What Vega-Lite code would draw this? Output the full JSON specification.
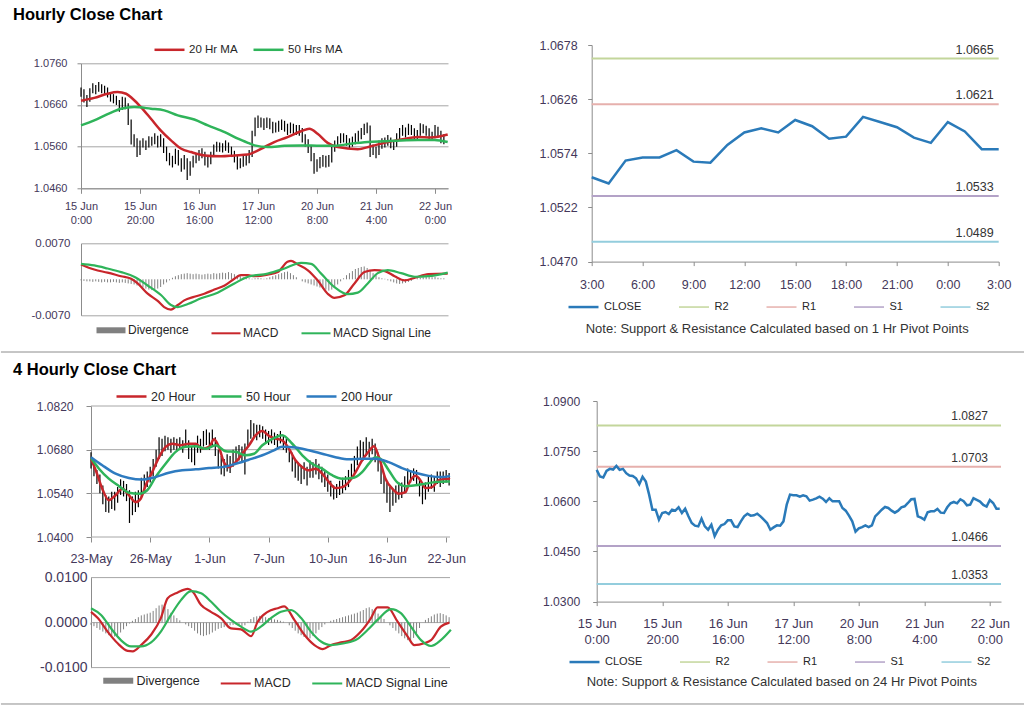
{
"$schema": "https://vega.github.io/schema/vega-lite/v6.json",
"background": "white",
"padding": {"left": 0, "top": 6, "right": 0, "bottom": 0},
"autosize": {"type": "pad"},
"spacing": 0,
"datasets": {
"h1": [
{"i":0,"c":1.0694,"h":1.0702,"l":1.0680,"d":-0.0002},{"i":1,"c":1.0674,"h":1.0698,"l":1.0666,"d":-0.0003},{"i":2,"c":1.0671,"h":1.0684,"l":1.0655,"d":-0.0004},{"i":3,"c":1.0691,"h":1.0700,"l":1.0668,"d":-0.0004},{"i":4,"c":1.0697,"h":1.0712,"l":1.0688,"d":-0.0005},{"i":5,"c":1.0695,"h":1.0708,"l":1.0686,"d":-0.0004},{"i":6,"c":1.0706,"h":1.0715,"l":1.0692,"d":-0.0005},{"i":7,"c":1.0694,"h":1.0710,"l":1.0688,"d":-0.0006},{"i":8,"c":1.0697,"h":1.0706,"l":1.0686,"d":-0.0005},{"i":9,"c":1.0684,"h":1.0702,"l":1.0678,"d":-0.0006},
{"i":10,"c":1.0677,"h":1.0690,"l":1.0668,"d":-0.0006},{"i":11,"c":1.0676,"h":1.0686,"l":1.0664,"d":-0.0005},{"i":12,"c":1.0669,"h":1.0682,"l":1.0660,"d":-0.0006},{"i":13,"c":1.0651,"h":1.0672,"l":1.0644,"d":-0.0007},{"i":14,"c":1.0673,"h":1.0680,"l":1.0648,"d":-0.0006},{"i":15,"c":1.0659,"h":1.0678,"l":1.0650,"d":-0.0007},{"i":16,"c":1.0620,"h":1.0664,"l":1.0612,"d":-0.0008},{"i":17,"c":1.0575,"h":1.0625,"l":1.0565,"d":-0.0009},{"i":18,"c":1.0575,"h":1.0590,"l":1.0560,"d":-0.0010},{"i":19,"c":1.0545,"h":1.0580,"l":1.0535,"d":-0.0012},
{"i":20,"c":1.0565,"h":1.0575,"l":1.0540,"d":-0.0014},{"i":21,"c":1.0568,"h":1.0580,"l":1.0558,"d":-0.0016},{"i":22,"c":1.0562,"h":1.0575,"l":1.0552,"d":-0.0018},{"i":23,"c":1.0575,"h":1.0585,"l":1.0558,"d":-0.0020},{"i":24,"c":1.0572,"h":1.0584,"l":1.0562,"d":-0.0021},{"i":25,"c":1.0582,"h":1.0592,"l":1.0566,"d":-0.0020},{"i":26,"c":1.0565,"h":1.0586,"l":1.0558,"d":-0.0018},{"i":27,"c":1.0578,"h":1.0590,"l":1.0560,"d":-0.0015},{"i":28,"c":1.0555,"h":1.0580,"l":1.0545,"d":-0.0010},{"i":29,"c":1.0535,"h":1.0560,"l":1.0525,"d":-0.0006},
{"i":30,"c":1.0527,"h":1.0545,"l":1.0515,"d":-0.0002},{"i":31,"c":1.0525,"h":1.0538,"l":1.0510,"d":0.0003},{"i":32,"c":1.0548,"h":1.0555,"l":1.0518,"d":0.0006},{"i":33,"c":1.0525,"h":1.0552,"l":1.0515,"d":0.0008},{"i":34,"c":1.0515,"h":1.0532,"l":1.0500,"d":0.0010},{"i":35,"c":1.0530,"h":1.0540,"l":1.0505,"d":0.0011},{"i":36,"c":1.0496,"h":1.0532,"l":1.0480,"d":0.0012},{"i":37,"c":1.0515,"h":1.0525,"l":1.0490,"d":0.0011},{"i":38,"c":1.0528,"h":1.0538,"l":1.0510,"d":0.0010},{"i":39,"c":1.0532,"h":1.0545,"l":1.0520,"d":0.0011},
{"i":40,"c":1.0543,"h":1.0552,"l":1.0526,"d":0.0010},{"i":41,"c":1.0543,"h":1.0556,"l":1.0532,"d":0.0009},{"i":42,"c":1.0525,"h":1.0548,"l":1.0515,"d":0.0010},{"i":43,"c":1.0523,"h":1.0535,"l":1.0510,"d":0.0011},{"i":44,"c":1.0540,"h":1.0548,"l":1.0518,"d":0.0010},{"i":45,"c":1.0555,"h":1.0565,"l":1.0535,"d":0.0012},{"i":46,"c":1.0563,"h":1.0572,"l":1.0548,"d":0.0011},{"i":47,"c":1.0557,"h":1.0570,"l":1.0548,"d":0.0012},{"i":48,"c":1.0558,"h":1.0568,"l":1.0546,"d":0.0013},{"i":49,"c":1.0563,"h":1.0575,"l":1.0550,"d":0.0012},
{"i":50,"c":1.0555,"h":1.0570,"l":1.0545,"d":0.0014},{"i":51,"c":1.0545,"h":1.0560,"l":1.0535,"d":0.0012},{"i":52,"c":1.0535,"h":1.0550,"l":1.0522,"d":0.0010},{"i":53,"c":1.0515,"h":1.0540,"l":1.0505,"d":0.0008},{"i":54,"c":1.0522,"h":1.0532,"l":1.0508,"d":0.0006},{"i":55,"c":1.0528,"h":1.0538,"l":1.0512,"d":0.0004},{"i":56,"c":1.0527,"h":1.0540,"l":1.0515,"d":0.0003},{"i":57,"c":1.0540,"h":1.0552,"l":1.0520,"d":0.0002},{"i":58,"c":1.0590,"h":1.0598,"l":1.0535,"d":0.0001},{"i":59,"c":1.0620,"h":1.0630,"l":1.0585,"d":0.0002},
{"i":60,"c":1.0618,"h":1.0635,"l":1.0605,"d":0.0003},{"i":61,"c":1.0618,"h":1.0630,"l":1.0606,"d":0.0002},{"i":62,"c":1.0614,"h":1.0628,"l":1.0600,"d":0.0001},{"i":63,"c":1.0618,"h":1.0630,"l":1.0605,"d":0.0002},{"i":64,"c":1.0615,"h":1.0628,"l":1.0602,"d":0.0004},{"i":65,"c":1.0602,"h":1.0620,"l":1.0592,"d":0.0006},{"i":66,"c":1.0605,"h":1.0618,"l":1.0594,"d":0.0008},{"i":67,"c":1.0609,"h":1.0622,"l":1.0596,"d":0.0010},{"i":68,"c":1.0614,"h":1.0625,"l":1.0600,"d":0.0012},{"i":69,"c":1.0608,"h":1.0622,"l":1.0596,"d":0.0014},
{"i":70,"c":1.0598,"h":1.0615,"l":1.0588,"d":0.0015},{"i":71,"c":1.0609,"h":1.0618,"l":1.0592,"d":0.0012},{"i":72,"c":1.0600,"h":1.0615,"l":1.0590,"d":0.0008},{"i":73,"c":1.0600,"h":1.0612,"l":1.0588,"d":0.0004},{"i":74,"c":1.0600,"h":1.0612,"l":1.0586,"d":0.0000},{"i":75,"c":1.0580,"h":1.0605,"l":1.0570,"d":-0.0004},{"i":76,"c":1.0572,"h":1.0590,"l":1.0560,"d":-0.0006},{"i":77,"c":1.0557,"h":1.0578,"l":1.0545,"d":-0.0008},{"i":78,"c":1.0540,"h":1.0562,"l":1.0525,"d":-0.0010},{"i":79,"c":1.0509,"h":1.0545,"l":1.0495,"d":-0.0012},
{"i":80,"c":1.0519,"h":1.0530,"l":1.0500,"d":-0.0014},{"i":81,"c":1.0523,"h":1.0535,"l":1.0508,"d":-0.0016},{"i":82,"c":1.0528,"h":1.0540,"l":1.0512,"d":-0.0018},{"i":83,"c":1.0523,"h":1.0538,"l":1.0510,"d":-0.0020},{"i":84,"c":1.0528,"h":1.0540,"l":1.0512,"d":-0.0022},{"i":85,"c":1.0555,"h":1.0562,"l":1.0522,"d":-0.0020},{"i":86,"c":1.0565,"h":1.0575,"l":1.0548,"d":-0.0016},{"i":87,"c":1.0575,"h":1.0585,"l":1.0558,"d":-0.0010},{"i":88,"c":1.0583,"h":1.0592,"l":1.0568,"d":-0.0004},{"i":89,"c":1.0580,"h":1.0592,"l":1.0570,"d":0.0002},
{"i":90,"c":1.0572,"h":1.0588,"l":1.0562,"d":0.0008},{"i":91,"c":1.0566,"h":1.0580,"l":1.0555,"d":0.0012},{"i":92,"c":1.0572,"h":1.0584,"l":1.0560,"d":0.0016},{"i":93,"c":1.0582,"h":1.0592,"l":1.0566,"d":0.0020},{"i":94,"c":1.0585,"h":1.0598,"l":1.0572,"d":0.0022},{"i":95,"c":1.0595,"h":1.0605,"l":1.0578,"d":0.0024},{"i":96,"c":1.0606,"h":1.0615,"l":1.0588,"d":0.0025},{"i":97,"c":1.0607,"h":1.0618,"l":1.0592,"d":0.0022},{"i":98,"c":1.0555,"h":1.0611,"l":1.0535,"d":0.0018},{"i":99,"c":1.0551,"h":1.0565,"l":1.0540,"d":0.0012},
{"i":100,"c":1.0545,"h":1.0560,"l":1.0532,"d":0.0008},{"i":101,"c":1.0567,"h":1.0575,"l":1.0540,"d":0.0004},{"i":102,"c":1.0570,"h":1.0580,"l":1.0555,"d":0.0002},{"i":103,"c":1.0570,"h":1.0582,"l":1.0558,"d":0.0001},{"i":104,"c":1.0577,"h":1.0588,"l":1.0562,"d":-0.0002},{"i":105,"c":1.0566,"h":1.0582,"l":1.0556,"d":-0.0004},{"i":106,"c":1.0565,"h":1.0576,"l":1.0552,"d":-0.0006},{"i":107,"c":1.0582,"h":1.0592,"l":1.0560,"d":-0.0008},{"i":108,"c":1.0594,"h":1.0605,"l":1.0578,"d":-0.0009},{"i":109,"c":1.0598,"h":1.0612,"l":1.0586,"d":-0.0008},
{"i":110,"c":1.0594,"h":1.0606,"l":1.0582,"d":-0.0007},{"i":111,"c":1.0606,"h":1.0615,"l":1.0588,"d":-0.0005},{"i":112,"c":1.0600,"h":1.0612,"l":1.0588,"d":-0.0003},{"i":113,"c":1.0588,"h":1.0604,"l":1.0578,"d":0.0000},{"i":114,"c":1.0590,"h":1.0600,"l":1.0578,"d":0.0002},{"i":115,"c":1.0609,"h":1.0616,"l":1.0586,"d":0.0003},{"i":116,"c":1.0604,"h":1.0614,"l":1.0592,"d":0.0004},{"i":117,"c":1.0599,"h":1.0610,"l":1.0586,"d":0.0005},{"i":118,"c":1.0589,"h":1.0604,"l":1.0578,"d":0.0005},{"i":119,"c":1.0584,"h":1.0596,"l":1.0574,"d":0.0004},
{"i":120,"c":1.0604,"h":1.0612,"l":1.0580,"d":0.0005},{"i":121,"c":1.0595,"h":1.0608,"l":1.0584,"d":0.0003},{"i":122,"c":1.0578,"h":1.0598,"l":1.0568,"d":0.0002},{"i":123,"c":1.0578,"h":1.0590,"l":1.0566,"d":0.0002}
],
"ma1": [
{"i":0,"s":"20 Hr MA","v":1.0670},{"i":4.5,"s":"20 Hr MA","v":1.0677},{"i":9,"s":"20 Hr MA","v":1.0687},{"i":12.4,"s":"20 Hr MA","v":1.0691},{"i":15.3,"s":"20 Hr MA","v":1.0687},{"i":17.5,"s":"20 Hr MA","v":1.0675},{"i":20.3,"s":"20 Hr MA","v":1.0655},{"i":23.7,"s":"20 Hr MA","v":1.0627},{"i":27,"s":"20 Hr MA","v":1.0599},{"i":30.5,"s":"20 Hr MA","v":1.0575},{"i":34,"s":"20 Hr MA","v":1.0555},{"i":37.3,"s":"20 Hr MA","v":1.0547},{"i":41.8,"s":"20 Hr MA","v":1.0539},{"i":47.5,"s":"20 Hr MA","v":1.0537},{"i":52,"s":"20 Hr MA","v":1.0539},{"i":56.5,"s":"20 Hr MA","v":1.0541},{"i":58.8,"s":"20 Hr MA","v":1.0547},{"i":62.2,"s":"20 Hr MA","v":1.0559},{"i":65.5,"s":"20 Hr MA","v":1.0571},{"i":70,"s":"20 Hr MA","v":1.0583},{"i":74.6,"s":"20 Hr MA","v":1.0597},{"i":77.4,"s":"20 Hr MA","v":1.0603},{"i":80.2,"s":"20 Hr MA","v":1.0591},{"i":83.6,"s":"20 Hr MA","v":1.0569},{"i":87,"s":"20 Hr MA","v":1.0559},{"i":93.8,"s":"20 Hr MA","v":1.0554},{"i":98.3,"s":"20 Hr MA","v":1.0561},{"i":102.8,"s":"20 Hr MA","v":1.0569},{"i":108.5,"s":"20 Hr MA","v":1.0577},{"i":114.2,"s":"20 Hr MA","v":1.0583},{"i":118.7,"s":"20 Hr MA","v":1.0582},{"i":124.3,"s":"20 Hr MA","v":1.0589},
{"i":0,"s":"50 Hrs MA","v":1.0611},{"i":4.5,"s":"50 Hrs MA","v":1.0623},{"i":9,"s":"50 Hrs MA","v":1.0638},{"i":13.6,"s":"50 Hrs MA","v":1.0651},{"i":18,"s":"50 Hrs MA","v":1.0655},{"i":23.7,"s":"50 Hrs MA","v":1.0651},{"i":28.2,"s":"50 Hrs MA","v":1.0647},{"i":32.8,"s":"50 Hrs MA","v":1.0635},{"i":38.4,"s":"50 Hrs MA","v":1.0625},{"i":43,"s":"50 Hrs MA","v":1.0611},{"i":48.7,"s":"50 Hrs MA","v":1.0595},{"i":53.2,"s":"50 Hrs MA","v":1.0579},{"i":56.6,"s":"50 Hrs MA","v":1.0569},{"i":58.8,"s":"50 Hrs MA","v":1.0563},{"i":63.3,"s":"50 Hrs MA","v":1.0559},{"i":69,"s":"50 Hrs MA","v":1.0562},{"i":74.6,"s":"50 Hrs MA","v":1.0563},{"i":81.4,"s":"50 Hrs MA","v":1.0562},{"i":85.9,"s":"50 Hrs MA","v":1.0562},{"i":91.5,"s":"50 Hrs MA","v":1.0567},{"i":97.2,"s":"50 Hrs MA","v":1.0571},{"i":102.8,"s":"50 Hrs MA","v":1.0573},{"i":108.5,"s":"50 Hrs MA","v":1.0575},{"i":114.2,"s":"50 Hrs MA","v":1.0576},{"i":119.8,"s":"50 Hrs MA","v":1.0576},{"i":124.3,"s":"50 Hrs MA","v":1.0571}
],
"m1": [
{"i":0,"s":"MACD","v":0.0029},{"i":4.5,"s":"MACD","v":0.0019},{"i":9,"s":"MACD","v":0.0013},{"i":13.6,"s":"MACD","v":0.0006},{"i":17,"s":"MACD","v":0.0001},{"i":19.2,"s":"MACD","v":-0.0008},{"i":22.6,"s":"MACD","v":-0.0028},{"i":26,"s":"MACD","v":-0.0042},{"i":28.2,"s":"MACD","v":-0.0054},{"i":30.5,"s":"MACD","v":-0.0059},{"i":32.8,"s":"MACD","v":-0.0050},{"i":35,"s":"MACD","v":-0.0041},{"i":38.4,"s":"MACD","v":-0.0034},{"i":41.8,"s":"MACD","v":-0.0028},{"i":45.2,"s":"MACD","v":-0.0020},{"i":48.7,"s":"MACD","v":-0.0012},{"i":52,"s":"MACD","v":0.0001},{"i":54.2,"s":"MACD","v":0.0008},{"i":56.6,"s":"MACD","v":0.0008},{"i":58.8,"s":"MACD","v":0.0006},{"i":63.3,"s":"MACD","v":0.0009},{"i":66.7,"s":"MACD","v":0.0014},{"i":70,"s":"MACD","v":0.0034},{"i":71.2,"s":"MACD","v":0.0036},{"i":73.4,"s":"MACD","v":0.0029},{"i":76.8,"s":"MACD","v":0.0018},{"i":80.2,"s":"MACD","v":-0.0002},{"i":83.6,"s":"MACD","v":-0.0028},{"i":85.9,"s":"MACD","v":-0.0036},{"i":89.3,"s":"MACD","v":-0.0031},{"i":92.7,"s":"MACD","v":-0.0008},{"i":96.1,"s":"MACD","v":0.0014},{"i":99.5,"s":"MACD","v":0.0018},{"i":103,"s":"MACD","v":0.0016},{"i":106.3,"s":"MACD","v":0.0006},{"i":109.7,"s":"MACD","v":-0.0002},{"i":113.2,"s":"MACD","v":0.0003},{"i":117.7,"s":"MACD","v":0.0010},{"i":124.3,"s":"MACD","v":0.0011},
{"i":0,"s":"MACD Signal Line","v":0.0030},{"i":4.5,"s":"MACD Signal Line","v":0.0027},{"i":9,"s":"MACD Signal Line","v":0.0021},{"i":13.6,"s":"MACD Signal Line","v":0.0014},{"i":18,"s":"MACD Signal Line","v":0.0005},{"i":22.6,"s":"MACD Signal Line","v":-0.0012},{"i":27.2,"s":"MACD Signal Line","v":-0.0031},{"i":30.5,"s":"MACD Signal Line","v":-0.0050},{"i":32.8,"s":"MACD Signal Line","v":-0.0054},{"i":36.2,"s":"MACD Signal Line","v":-0.0048},{"i":40.7,"s":"MACD Signal Line","v":-0.0037},{"i":46.3,"s":"MACD Signal Line","v":-0.0026},{"i":52,"s":"MACD Signal Line","v":-0.0008},{"i":56.6,"s":"MACD Signal Line","v":0.0005},{"i":63.3,"s":"MACD Signal Line","v":0.0011},{"i":69,"s":"MACD Signal Line","v":0.0021},{"i":74.6,"s":"MACD Signal Line","v":0.0032},{"i":78,"s":"MACD Signal Line","v":0.0030},{"i":81.4,"s":"MACD Signal Line","v":0.0011},{"i":85.9,"s":"MACD Signal Line","v":-0.0015},{"i":90.4,"s":"MACD Signal Line","v":-0.0029},{"i":93.8,"s":"MACD Signal Line","v":-0.0026},{"i":97.2,"s":"MACD Signal Line","v":-0.0008},{"i":100.6,"s":"MACD Signal Line","v":0.0012},{"i":104,"s":"MACD Signal Line","v":0.0018},{"i":108.5,"s":"MACD Signal Line","v":0.0012},{"i":113.2,"s":"MACD Signal Line","v":0.0005},{"i":117.7,"s":"MACD Signal Line","v":0.0006},{"i":124.3,"s":"MACD Signal Line","v":0.0013}
],
"h4": [
{"i":0,"h":1.0672,"l":1.0620,"d":-0.0005},{"i":1,"h":1.0650,"l":1.0595,"d":-0.0008},{"i":2,"h":1.0615,"l":1.0570,"d":-0.0012},{"i":3,"h":1.0600,"l":1.0540,"d":-0.0016},{"i":4,"h":1.0565,"l":1.0505,"d":-0.0020},{"i":5,"h":1.0535,"l":1.0480,"d":-0.0024},{"i":6,"h":1.0530,"l":1.0478,"d":-0.0028},{"i":7,"h":1.0545,"l":1.0490,"d":-0.0030},{"i":8,"h":1.0545,"l":1.0485,"d":-0.0031},{"i":9,"h":1.0560,"l":1.0510,"d":-0.0028},
{"i":10,"h":1.0585,"l":1.0535,"d":-0.0022},{"i":11,"h":1.0580,"l":1.0530,"d":-0.0015},{"i":12,"h":1.0570,"l":1.0515,"d":-0.0008},{"i":13,"h":1.0550,"l":1.0445,"d":-0.0002},{"i":14,"h":1.0530,"l":1.0470,"d":0.0004},{"i":15,"h":1.0545,"l":1.0480,"d":0.0008},{"i":16,"h":1.0550,"l":1.0495,"d":0.0012},{"i":17,"h":1.0590,"l":1.0525,"d":0.0016},{"i":18,"h":1.0600,"l":1.0540,"d":0.0018},{"i":19,"h":1.0610,"l":1.0560,"d":0.0020},
{"i":20,"h":1.0625,"l":1.0575,"d":0.0022},{"i":21,"h":1.0650,"l":1.0595,"d":0.0026},{"i":22,"h":1.0680,"l":1.0625,"d":0.0032},{"i":23,"h":1.0720,"l":1.0650,"d":0.0038},{"i":24,"h":1.0715,"l":1.0660,"d":0.0040},{"i":25,"h":1.0725,"l":1.0675,"d":0.0036},{"i":26,"h":1.0720,"l":1.0680,"d":0.0030},{"i":27,"h":1.0715,"l":1.0670,"d":0.0022},{"i":28,"h":1.0720,"l":1.0680,"d":0.0016},{"i":29,"h":1.0715,"l":1.0675,"d":0.0010},
{"i":30,"h":1.0720,"l":1.0685,"d":0.0005},{"i":31,"h":1.0710,"l":1.0670,"d":0.0000},{"i":32,"h":1.0745,"l":1.0690,"d":-0.0004},{"i":33,"h":1.0710,"l":1.0650,"d":-0.0008},{"i":34,"h":1.0690,"l":1.0640,"d":-0.0012},{"i":35,"h":1.0700,"l":1.0630,"d":-0.0018},{"i":36,"h":1.0725,"l":1.0670,"d":-0.0024},{"i":37,"h":1.0715,"l":1.0670,"d":-0.0028},{"i":38,"h":1.0740,"l":1.0690,"d":-0.0030},{"i":39,"h":1.0745,"l":1.0695,"d":-0.0028},
{"i":40,"h":1.0735,"l":1.0680,"d":-0.0026},{"i":41,"h":1.0745,"l":1.0690,"d":-0.0022},{"i":42,"h":1.0720,"l":1.0660,"d":-0.0018},{"i":43,"h":1.0680,"l":1.0620,"d":-0.0014},{"i":44,"h":1.0660,"l":1.0600,"d":-0.0012},{"i":45,"h":1.0650,"l":1.0595,"d":-0.0010},{"i":46,"h":1.0665,"l":1.0610,"d":-0.0008},{"i":47,"h":1.0660,"l":1.0605,"d":-0.0006},{"i":48,"h":1.0680,"l":1.0625,"d":-0.0005},{"i":49,"h":1.0690,"l":1.0640,"d":-0.0004},
{"i":50,"h":1.0695,"l":1.0645,"d":-0.0006},{"i":51,"h":1.0690,"l":1.0640,"d":-0.0008},{"i":52,"h":1.0700,"l":1.0600,"d":-0.0006},{"i":53,"h":1.0745,"l":1.0690,"d":0.0002},{"i":54,"h":1.0775,"l":1.0715,"d":0.0008},{"i":55,"h":1.0765,"l":1.0720,"d":0.0012},{"i":56,"h":1.0760,"l":1.0710,"d":0.0014},{"i":57,"h":1.0760,"l":1.0720,"d":0.0015},{"i":58,"h":1.0755,"l":1.0715,"d":0.0014},{"i":59,"h":1.0745,"l":1.0700,"d":0.0012},
{"i":60,"h":1.0740,"l":1.0695,"d":0.0010},{"i":61,"h":1.0745,"l":1.0700,"d":0.0008},{"i":62,"h":1.0735,"l":1.0695,"d":0.0007},{"i":63,"h":1.0730,"l":1.0685,"d":0.0006},{"i":64,"h":1.0740,"l":1.0700,"d":0.0004},{"i":65,"h":1.0725,"l":1.0680,"d":0.0002},{"i":66,"h":1.0715,"l":1.0670,"d":0.0000},{"i":67,"h":1.0690,"l":1.0640,"d":-0.0006},{"i":68,"h":1.0670,"l":1.0610,"d":-0.0012},{"i":69,"h":1.0650,"l":1.0590,"d":-0.0018},
{"i":70,"h":1.0640,"l":1.0580,"d":-0.0024},{"i":71,"h":1.0630,"l":1.0570,"d":-0.0028},{"i":72,"h":1.0640,"l":1.0585,"d":-0.0032},{"i":73,"h":1.0625,"l":1.0565,"d":-0.0034},{"i":74,"h":1.0645,"l":1.0590,"d":-0.0035},{"i":75,"h":1.0640,"l":1.0590,"d":-0.0030},{"i":76,"h":1.0650,"l":1.0600,"d":-0.0024},{"i":77,"h":1.0635,"l":1.0585,"d":-0.0016},{"i":78,"h":1.0625,"l":1.0575,"d":-0.0010},{"i":79,"h":1.0615,"l":1.0560,"d":-0.0004},
{"i":80,"h":1.0600,"l":1.0545,"d":0.0000},{"i":81,"h":1.0580,"l":1.0530,"d":0.0004},{"i":82,"h":1.0565,"l":1.0520,"d":0.0006},{"i":83,"h":1.0570,"l":1.0525,"d":0.0008},{"i":84,"h":1.0580,"l":1.0535,"d":0.0010},{"i":85,"h":1.0590,"l":1.0540,"d":0.0012},{"i":86,"h":1.0595,"l":1.0550,"d":0.0014},{"i":87,"h":1.0615,"l":1.0560,"d":0.0016},{"i":88,"h":1.0635,"l":1.0585,"d":0.0018},{"i":89,"h":1.0660,"l":1.0600,"d":0.0020},
{"i":90,"h":1.0690,"l":1.0630,"d":0.0022},{"i":91,"h":1.0710,"l":1.0650,"d":0.0025},{"i":92,"h":1.0705,"l":1.0645,"d":0.0028},{"i":93,"h":1.0720,"l":1.0660,"d":0.0032},{"i":94,"h":1.0705,"l":1.0655,"d":0.0034},{"i":95,"h":1.0715,"l":1.0665,"d":0.0030},{"i":96,"h":1.0700,"l":1.0640,"d":0.0026},{"i":97,"h":1.0670,"l":1.0610,"d":0.0020},{"i":98,"h":1.0640,"l":1.0570,"d":0.0014},{"i":99,"h":1.0605,"l":1.0540,"d":0.0008},
{"i":100,"h":1.0575,"l":1.0510,"d":0.0000},{"i":101,"h":1.0560,"l":1.0480,"d":-0.0006},{"i":102,"h":1.0555,"l":1.0500,"d":-0.0012},{"i":103,"h":1.0565,"l":1.0510,"d":-0.0018},{"i":104,"h":1.0575,"l":1.0520,"d":-0.0024},{"i":105,"h":1.0575,"l":1.0525,"d":-0.0030},{"i":106,"h":1.0595,"l":1.0540,"d":-0.0035},{"i":107,"h":1.0620,"l":1.0570,"d":-0.0039},{"i":108,"h":1.0615,"l":1.0575,"d":-0.0040},{"i":109,"h":1.0620,"l":1.0580,"d":-0.0034},
{"i":110,"h":1.0615,"l":1.0565,"d":-0.0024},{"i":111,"h":1.0590,"l":1.0530,"d":-0.0012},{"i":112,"h":1.0570,"l":1.0505,"d":0.0000},{"i":113,"h":1.0575,"l":1.0520,"d":0.0006},{"i":114,"h":1.0595,"l":1.0545,"d":0.0010},{"i":115,"h":1.0600,"l":1.0555,"d":0.0014},{"i":116,"h":1.0595,"l":1.0545,"d":0.0018},{"i":117,"h":1.0610,"l":1.0570,"d":0.0020},{"i":118,"h":1.0610,"l":1.0560,"d":0.0021},{"i":119,"h":1.0610,"l":1.0570,"d":0.0019},
{"i":120,"h":1.0615,"l":1.0575,"d":0.0016},{"i":121,"h":1.0605,"l":1.0565,"d":0.0012}
],
"ma4": [
{"i":0,"s":"20 Hour","v":1.0651},{"i":1.6,"s":"20 Hour","v":1.0614},{"i":3.8,"s":"20 Hour","v":1.0555},{"i":6,"s":"20 Hour","v":1.0518},{"i":8.3,"s":"20 Hour","v":1.0534},{"i":10.6,"s":"20 Hour","v":1.0555},{"i":12.8,"s":"20 Hour","v":1.0534},{"i":15.1,"s":"20 Hour","v":1.0512},{"i":16.8,"s":"20 Hour","v":1.0523},{"i":18.5,"s":"20 Hour","v":1.0566},{"i":20.7,"s":"20 Hour","v":1.0608},{"i":23,"s":"20 Hour","v":1.0656},{"i":25.2,"s":"20 Hour","v":1.0689},{"i":27.5,"s":"20 Hour","v":1.0699},{"i":30.3,"s":"20 Hour","v":1.0694},{"i":33.1,"s":"20 Hour","v":1.0699},{"i":35.4,"s":"20 Hour","v":1.0699},{"i":37.6,"s":"20 Hour","v":1.0683},{"i":39.9,"s":"20 Hour","v":1.0689},{"i":41.6,"s":"20 Hour","v":1.0713},{"i":43.2,"s":"20 Hour","v":1.0689},{"i":44.9,"s":"20 Hour","v":1.0640},{"i":46.6,"s":"20 Hour","v":1.0624},{"i":48.9,"s":"20 Hour","v":1.0640},{"i":51.1,"s":"20 Hour","v":1.0667},{"i":53.4,"s":"20 Hour","v":1.0694},{"i":55.6,"s":"20 Hour","v":1.0726},{"i":57.9,"s":"20 Hour","v":1.0740},{"i":60.1,"s":"20 Hour","v":1.0724},{"i":61.8,"s":"20 Hour","v":1.0717},{"i":64.6,"s":"20 Hour","v":1.0710},{"i":66.9,"s":"20 Hour","v":1.0683},{"i":69.1,"s":"20 Hour","v":1.0646},{"i":71.4,"s":"20 Hour","v":1.0624},{"i":73.6,"s":"20 Hour","v":1.0614},{"i":75.9,"s":"20 Hour","v":1.0619},{"i":78.1,"s":"20 Hour","v":1.0603},{"i":80.4,"s":"20 Hour","v":1.0576},{"i":82.6,"s":"20 Hour","v":1.0557},{"i":84.9,"s":"20 Hour","v":1.0560},{"i":87.1,"s":"20 Hour","v":1.0576},{"i":89.4,"s":"20 Hour","v":1.0608},{"i":91.6,"s":"20 Hour","v":1.0646},{"i":93.9,"s":"20 Hour","v":1.0675},{"i":95.6,"s":"20 Hour","v":1.0691},{"i":97.3,"s":"20 Hour","v":1.0656},{"i":99.5,"s":"20 Hour","v":1.0587},{"i":101.8,"s":"20 Hour","v":1.0555},{"i":104,"s":"20 Hour","v":1.0539},{"i":106.3,"s":"20 Hour","v":1.0544},{"i":107.4,"s":"20 Hour","v":1.0571},{"i":109.6,"s":"20 Hour","v":1.0596},{"i":111.3,"s":"20 Hour","v":1.0582},{"i":113,"s":"20 Hour","v":1.0557},{"i":115.3,"s":"20 Hour","v":1.0560},{"i":117.5,"s":"20 Hour","v":1.0582},{"i":120.3,"s":"20 Hour","v":1.0587},{"i":121.3,"s":"20 Hour","v":1.0585},
{"i":0,"s":"50 Hour","v":1.0653},{"i":2.7,"s":"50 Hour","v":1.0619},{"i":6,"s":"50 Hour","v":1.0587},{"i":9.5,"s":"50 Hour","v":1.0563},{"i":12.8,"s":"50 Hour","v":1.0542},{"i":16.2,"s":"50 Hour","v":1.0539},{"i":19,"s":"50 Hour","v":1.0550},{"i":21.8,"s":"50 Hour","v":1.0592},{"i":25.2,"s":"50 Hour","v":1.0635},{"i":28.6,"s":"50 Hour","v":1.0673},{"i":32,"s":"50 Hour","v":1.0689},{"i":35.4,"s":"50 Hour","v":1.0691},{"i":38.7,"s":"50 Hour","v":1.0683},{"i":42.1,"s":"50 Hour","v":1.0694},{"i":45.5,"s":"50 Hour","v":1.0675},{"i":48.9,"s":"50 Hour","v":1.0673},{"i":52.2,"s":"50 Hour","v":1.0662},{"i":55.1,"s":"50 Hour","v":1.0667},{"i":57.9,"s":"50 Hour","v":1.0694},{"i":61.8,"s":"50 Hour","v":1.0717},{"i":64.6,"s":"50 Hour","v":1.0726},{"i":68,"s":"50 Hour","v":1.0699},{"i":71.4,"s":"50 Hour","v":1.0662},{"i":74.7,"s":"50 Hour","v":1.0635},{"i":78.1,"s":"50 Hour","v":1.0619},{"i":81.5,"s":"50 Hour","v":1.0598},{"i":84.9,"s":"50 Hour","v":1.0587},{"i":88.3,"s":"50 Hour","v":1.0589},{"i":91.6,"s":"50 Hour","v":1.0608},{"i":93.9,"s":"50 Hour","v":1.0635},{"i":96.1,"s":"50 Hour","v":1.0656},{"i":97.8,"s":"50 Hour","v":1.0651},{"i":100.6,"s":"50 Hour","v":1.0614},{"i":103.4,"s":"50 Hour","v":1.0576},{"i":106.3,"s":"50 Hour","v":1.0563},{"i":109.6,"s":"50 Hour","v":1.0566},{"i":113,"s":"50 Hour","v":1.0571},{"i":116.4,"s":"50 Hour","v":1.0576},{"i":120.3,"s":"50 Hour","v":1.0578},{"i":121.3,"s":"50 Hour","v":1.0578},
{"i":0,"s":"200 Hour","v":1.0656},{"i":3.8,"s":"200 Hour","v":1.0630},{"i":8.3,"s":"200 Hour","v":1.0603},{"i":12.8,"s":"200 Hour","v":1.0589},{"i":17.3,"s":"200 Hour","v":1.0584},{"i":21.8,"s":"200 Hour","v":1.0592},{"i":26.3,"s":"200 Hour","v":1.0606},{"i":30.8,"s":"200 Hour","v":1.0614},{"i":35.4,"s":"200 Hour","v":1.0617},{"i":39.9,"s":"200 Hour","v":1.0621},{"i":44.4,"s":"200 Hour","v":1.0624},{"i":48.9,"s":"200 Hour","v":1.0635},{"i":53.4,"s":"200 Hour","v":1.0648},{"i":57.9,"s":"200 Hour","v":1.0662},{"i":61.8,"s":"200 Hour","v":1.0678},{"i":64.6,"s":"200 Hour","v":1.0689},{"i":69.1,"s":"200 Hour","v":1.0687},{"i":73.6,"s":"200 Hour","v":1.0678},{"i":78.1,"s":"200 Hour","v":1.0667},{"i":82.6,"s":"200 Hour","v":1.0656},{"i":87.1,"s":"200 Hour","v":1.0649},{"i":91.6,"s":"200 Hour","v":1.0651},{"i":96.1,"s":"200 Hour","v":1.0651},{"i":100.6,"s":"200 Hour","v":1.0640},{"i":105.1,"s":"200 Hour","v":1.0621},{"i":109.6,"s":"200 Hour","v":1.0606},{"i":114.1,"s":"200 Hour","v":1.0596},{"i":118.6,"s":"200 Hour","v":1.0592},{"i":121.3,"s":"200 Hour","v":1.0596}
],
"m4": [
{"i":0,"s":"MACD","v":0.0024},{"i":2.3,"s":"MACD","v":0.0010},{"i":5.6,"s":"MACD","v":-0.0020},{"i":9,"s":"MACD","v":-0.0046},{"i":12.4,"s":"MACD","v":-0.0063},{"i":14.1,"s":"MACD","v":-0.0064},{"i":16.9,"s":"MACD","v":-0.0050},{"i":20.3,"s":"MACD","v":-0.0027},{"i":23.6,"s":"MACD","v":0.0010},{"i":25.9,"s":"MACD","v":0.0054},{"i":29.3,"s":"MACD","v":0.0067},{"i":32.7,"s":"MACD","v":0.0075},{"i":34.3,"s":"MACD","v":0.0069},{"i":37.2,"s":"MACD","v":0.0039},{"i":40.5,"s":"MACD","v":0.0024},{"i":43.9,"s":"MACD","v":0.0010},{"i":47.3,"s":"MACD","v":-0.0013},{"i":50.7,"s":"MACD","v":-0.0015},{"i":54.1,"s":"MACD","v":-0.0030},{"i":56.3,"s":"MACD","v":0.0002},{"i":59.7,"s":"MACD","v":0.0024},{"i":63.1,"s":"MACD","v":0.0032},{"i":65.3,"s":"MACD","v":0.0036},{"i":68.7,"s":"MACD","v":0.0006},{"i":72.1,"s":"MACD","v":-0.0027},{"i":75.5,"s":"MACD","v":-0.0050},{"i":78.3,"s":"MACD","v":-0.0059},{"i":81.1,"s":"MACD","v":-0.0050},{"i":84.5,"s":"MACD","v":-0.0044},{"i":87.8,"s":"MACD","v":-0.0039},{"i":91.2,"s":"MACD","v":-0.0020},{"i":94.6,"s":"MACD","v":0.0010},{"i":96.8,"s":"MACD","v":0.0034},{"i":100.2,"s":"MACD","v":0.0034},{"i":103.6,"s":"MACD","v":0.0002},{"i":107,"s":"MACD","v":-0.0031},{"i":109.2,"s":"MACD","v":-0.0050},{"i":112.6,"s":"MACD","v":-0.0046},{"i":114.9,"s":"MACD","v":-0.0039},{"i":118.2,"s":"MACD","v":-0.0009},{"i":121.1,"s":"MACD","v":0.0000},
{"i":0,"s":"MACD Signal Line","v":0.0032},{"i":3.4,"s":"MACD Signal Line","v":0.0017},{"i":6.8,"s":"MACD Signal Line","v":-0.0013},{"i":10.1,"s":"MACD Signal Line","v":-0.0039},{"i":13.5,"s":"MACD Signal Line","v":-0.0053},{"i":16.9,"s":"MACD Signal Line","v":-0.0053},{"i":20.3,"s":"MACD Signal Line","v":-0.0044},{"i":23.6,"s":"MACD Signal Line","v":-0.0020},{"i":27,"s":"MACD Signal Line","v":0.0017},{"i":30.4,"s":"MACD Signal Line","v":0.0050},{"i":33.8,"s":"MACD Signal Line","v":0.0070},{"i":37.2,"s":"MACD Signal Line","v":0.0065},{"i":40.5,"s":"MACD Signal Line","v":0.0047},{"i":43.9,"s":"MACD Signal Line","v":0.0024},{"i":47.3,"s":"MACD Signal Line","v":0.0006},{"i":50.7,"s":"MACD Signal Line","v":-0.0009},{"i":54.1,"s":"MACD Signal Line","v":-0.0020},{"i":57.4,"s":"MACD Signal Line","v":-0.0009},{"i":60.8,"s":"MACD Signal Line","v":0.0010},{"i":64.2,"s":"MACD Signal Line","v":0.0024},{"i":67.6,"s":"MACD Signal Line","v":0.0028},{"i":71,"s":"MACD Signal Line","v":0.0010},{"i":74.3,"s":"MACD Signal Line","v":-0.0020},{"i":77.7,"s":"MACD Signal Line","v":-0.0042},{"i":81.1,"s":"MACD Signal Line","v":-0.0050},{"i":85.6,"s":"MACD Signal Line","v":-0.0046},{"i":90.1,"s":"MACD Signal Line","v":-0.0036},{"i":93.5,"s":"MACD Signal Line","v":-0.0016},{"i":96.8,"s":"MACD Signal Line","v":0.0006},{"i":101.4,"s":"MACD Signal Line","v":0.0030},{"i":104.7,"s":"MACD Signal Line","v":0.0021},{"i":108.1,"s":"MACD Signal Line","v":-0.0009},{"i":111.5,"s":"MACD Signal Line","v":-0.0039},{"i":114.9,"s":"MACD Signal Line","v":-0.0052},{"i":118.2,"s":"MACD Signal Line","v":-0.0039},{"i":121.6,"s":"MACD Signal Line","v":-0.0016}
],
"sr1": [{"s":"R2","v":1.0665},{"s":"R1","v":1.0621},{"s":"S1","v":1.0533},{"s":"S2","v":1.0489}],
"sr24": [{"s":"R2","v":1.0827},{"s":"R1","v":1.0703},{"s":"S1","v":1.0466},{"s":"S2","v":1.0353}],
"g4": [{"g":1.04},{"g":1.054},{"g":1.068},{"g":1.082}],
"gm4": [{"g":-0.01},{"g":0},{"g":0.01}]
},
"vconcat": [
{
"title": {"text": "Hourly Close Chart", "anchor": "start", "frame": "group", "fontSize": 16.5, "fontWeight": "bold", "color": "#000000", "dx": -68, "offset": 10},
"spacing": 85.7,
"resolve": {"scale": {"color": "independent"}, "legend": {"color": "independent"}},
"hconcat": [
{
"bounds": "flush",
"spacing": 17.3,
"resolve": {"scale": {"color": "independent"}, "legend": {"color": "independent"}},
"vconcat": [
{"width": 1, "height": 1, "data": {"values": []}, "mark": {"type": "point", "opacity": 0}},
{
"bounds": "flush",
"spacing": 55,
"resolve": {"scale": {"color": "independent"}, "legend": {"color": "independent"}},
"vconcat": [
{
"width": 367, "height": 125,
"layer": [
{"data": {"name": "h1"}, "mark": {"type": "rule", "color": "#000000", "strokeWidth": 1.2},
 "encoding": {
  "x": {"field": "i", "type": "quantitative", "scale": {"domain": [0, 124.4], "nice": false, "zero": false},
   "axis": {"title": null, "values": [0,20,40,60,80,100,120], "labelExpr": "split(['15 Jun|0:00','15 Jun|20:00','16 Jun|16:00','17 Jun|12:00','20 Jun|8:00','21 Jun|4:00','22 Jun|0:00'][round(datum.value/20)], '|')", "labelLineHeight": 14, "labelFontSize": 11, "tickSize": 5, "labelPadding": 7, "grid": false}},
  "y": {"field": "l", "type": "quantitative", "scale": {"domain": [1.046, 1.076], "nice": false, "zero": false},
   "axis": {"title": null, "values": [1.046, 1.056, 1.066, 1.076], "format": ".4f", "grid": true, "tickSize": 4, "labelPadding": 10, "labelFontSize": 11}},
  "y2": {"field": "h"}
 }},
{"data": {"name": "ma1"}, "mark": {"type": "line", "strokeWidth": 2.5, "interpolate": "monotone"},
 "encoding": {
  "x": {"field": "i", "type": "quantitative"},
  "y": {"field": "v", "type": "quantitative"},
  "color": {"field": "s", "type": "nominal", "scale": {"domain": ["20 Hr MA", "50 Hrs MA"], "range": ["#c8262b", "#2fb45a"]},
   "legend": {"orient": "none", "legendX": 72, "legendY": -30, "direction": "horizontal", "title": null, "symbolType": "stroke", "symbolSize": 900, "symbolStrokeWidth": 2.5, "labelFontSize": 11.5, "labelOffset": 3, "columnPadding": 10, "padding": 0}}
 }}
]
},
{
"width": 367, "height": 72,
"layer": [
{"data": {"name": "h1"}, "mark": {"type": "rule", "strokeWidth": 1},
 "encoding": {
  "x": {"field": "i", "type": "quantitative", "scale": {"domain": [0, 124.4], "nice": false, "zero": false}, "axis": null},
  "y": {"field": "d", "type": "quantitative", "scale": {"domain": [-0.007, 0.007], "nice": false, "zero": false},
   "axis": {"title": null, "values": [-0.007, 0, 0.007], "labelExpr": "(datum.value < 0 ? '-' : '') + format(abs(datum.value), '.4f')", "grid": true, "ticks": false, "labelPadding": 11, "labelFontSize": 11.5}},
  "y2": {"datum": 0},
  "color": {"datum": "Divergence", "type": "nominal"}
 }},
{"data": {"name": "m1"}, "mark": {"type": "line", "strokeWidth": 2.2, "interpolate": "monotone"},
 "encoding": {
  "x": {"field": "i", "type": "quantitative"},
  "y": {"field": "v", "type": "quantitative"},
  "color": {"field": "s", "type": "nominal", "scale": {"domain": ["Divergence", "MACD", "MACD Signal Line"], "range": ["#808080", "#c8262b", "#2fb45a"]},
   "legend": {"orient": "none", "legendX": 24, "legendY": 81, "direction": "horizontal", "title": null, "symbolType": "stroke", "symbolSize": 841, "labelFontSize": 12, "labelOffset": 11, "columnPadding": 18, "padding": 0,
    "encode": {"symbols": {"update": {"strokeWidth": {"signal": "datum.value === 'Divergence' ? 6 : 2"}}}}}}
 }}
]
}
]
}
]
},
{
"width": 407, "height": 216.6,
"title": {"text": "Note: Support & Resistance Calculated based on 1 Hr Pivot Points", "orient": "bottom", "anchor": "start", "frame": "group", "dx": -6, "offset": 10.7, "fontSize": 13, "fontWeight": "normal", "color": "#333333"},
"layer": [
{"data": {"name": "sr1"}, "mark": {"type": "rule", "strokeWidth": 2},
 "encoding": {
  "y": {"field": "v", "type": "quantitative", "scale": {"domain": [1.047, 1.0678], "nice": false, "zero": false},
   "axis": {"title": null, "values": [1.047, 1.0522, 1.0574, 1.0626, 1.0678], "format": ".4f", "grid": false, "tickSize": 4, "labelPadding": 10.5, "labelFontSize": 12.5}},
  "color": {"field": "s", "type": "nominal", "scale": {"domain": ["CLOSE", "R2", "R1", "S1", "S2"], "range": ["#2a7ab9", "#c3d69b", "#e6b0ad", "#b3a2c7", "#93cddd"]},
   "legend": {"orient": "none", "legendX": -13.7, "legendY": 256.3, "direction": "horizontal", "title": null, "symbolType": "stroke", "symbolSize": 900, "labelFontSize": 11, "labelOffset": 15, "columnPadding": 33.5, "padding": 0,
    "encode": {"symbols": {"update": {"strokeWidth": {"signal": "datum.value === 'CLOSE' ? 2.5 : 1.5"}}}}}}
 }},
{"data": {"name": "sr1"}, "mark": {"type": "text", "align": "right", "baseline": "middle", "dx": -5, "dy": -9, "fontSize": 12.5, "color": "#333333"},
 "encoding": {
  "x": {"datum": 123, "type": "quantitative"},
  "y": {"field": "v", "type": "quantitative"},
  "text": {"field": "v", "type": "quantitative", "format": ".4f"}
 }},
{"data": {"name": "h1"}, "transform": [{"filter": "datum.i >= 99"}], "mark": {"type": "line", "strokeWidth": 2.5},
 "encoding": {
  "x": {"field": "i", "type": "quantitative", "scale": {"domain": [99, 123], "nice": false, "zero": false},
   "axis": {"title": null, "values": [99,102,105,108,111,114,117,120,123], "labelExpr": "((datum.value - 96) % 24) + ':00'", "tickSize": 4, "labelPadding": 13.3, "labelFontSize": 12.5, "grid": false}},
  "y": {"field": "c", "type": "quantitative"},
  "color": {"datum": "CLOSE", "type": "nominal"}
 }}
]
}
]
},
{
"width": 944, "height": 18,
"data": {"values": [{"v": 0.5}]},
"mark": {"type": "rule", "color": "#8c8c8c", "strokeWidth": 1},
"encoding": {
 "y": {"field": "v", "type": "quantitative", "scale": {"domain": [0, 1]}, "axis": null},
 "x": {"datum": -0.0848, "type": "quantitative", "scale": {"domain": [0, 1], "nice": false, "zero": false}, "axis": null},
 "x2": {"datum": 1}
}
},
{
"title": {"text": "4 Hourly Close Chart", "anchor": "start", "frame": "group", "fontSize": 16.5, "fontWeight": "bold", "color": "#000000", "dx": -68, "offset": 2},
"spacing": 75.7,
"resolve": {"scale": {"color": "independent"}, "legend": {"color": "independent"}},
"hconcat": [
{
"bounds": "flush",
"spacing": 4,
"resolve": {"scale": {"color": "independent"}, "legend": {"color": "independent"}},
"vconcat": [
{"width": 1, "height": 1, "data": {"values": []}, "mark": {"type": "point", "opacity": 0}},
{
"bounds": "flush",
"spacing": 40.6,
"resolve": {"scale": {"color": "independent"}, "legend": {"color": "independent"}},
"vconcat": [
{
"width": 369, "height": 131,
"layer": [
{"data": {"name": "g4"}, "mark": {"type": "rule", "color": "#a6a6a6", "strokeWidth": 1},
 "encoding": {
  "x": {"datum": 0, "type": "quantitative", "scale": {"domain": [-3.38, 121.3], "nice": false, "zero": false},
   "axis": {"title": null, "values": [0,20,40,60,80,100,120], "labelExpr": "['23-May','26-May','1-Jun','7-Jun','10-Jun','16-Jun','22-Jun'][round(datum.value/20)]", "labelFontSize": 12.6, "tickSize": 5, "labelPadding": 10, "grid": false, "domain": false}},
  "x2": {"datum": 121.3},
  "y": {"field": "g", "type": "quantitative", "scale": {"domain": [1.04, 1.082], "nice": false, "zero": false},
   "axis": {"title": null, "values": [1.04, 1.054, 1.068, 1.082], "format": ".4f", "grid": false, "tickSize": 5, "labelPadding": 13, "labelFontSize": 12, "offset": -10}}
 }},
{"data": {"name": "h4"}, "mark": {"type": "rule", "color": "#000000", "strokeWidth": 1.2},
 "encoding": {
  "x": {"field": "i", "type": "quantitative"},
  "y": {"field": "l", "type": "quantitative"},
  "y2": {"field": "h"}
 }},
{"data": {"name": "ma4"}, "mark": {"type": "line", "strokeWidth": 2.5, "interpolate": "monotone"},
 "encoding": {
  "x": {"field": "i", "type": "quantitative"},
  "y": {"field": "v", "type": "quantitative"},
  "color": {"field": "s", "type": "nominal", "scale": {"domain": ["20 Hour", "50 Hour", "200 Hour"], "range": ["#c8262b", "#2fb45a", "#2e7bc0"]},
   "legend": {"orient": "none", "legendX": 34, "legendY": -26, "direction": "horizontal", "title": null, "symbolType": "stroke", "symbolSize": 900, "symbolStrokeWidth": 2.5, "labelFontSize": 12.5, "labelOffset": 3, "columnPadding": 10, "padding": 0}}
 }}
]
},
{
"width": 369, "height": 90,
"layer": [
{"data": {"name": "gm4"}, "mark": {"type": "rule", "color": "#a6a6a6", "strokeWidth": 1},
 "encoding": {
  "x": {"datum": 0, "type": "quantitative", "scale": {"domain": [-3.38, 121.3], "nice": false, "zero": false}, "axis": null},
  "x2": {"datum": 121.3},
  "y": {"field": "g", "type": "quantitative", "scale": {"domain": [-0.01, 0.01], "nice": false, "zero": false},
   "axis": {"title": null, "values": [-0.01, 0, 0.01], "labelExpr": "(datum.value < 0 ? '-' : '') + format(abs(datum.value), '.4f')", "grid": false, "ticks": false, "labelPadding": 4, "labelFontSize": 14, "offset": -10}}
 }},
{"data": {"name": "h4"}, "mark": {"type": "rule", "strokeWidth": 1},
 "encoding": {
  "x": {"field": "i", "type": "quantitative"},
  "y": {"field": "d", "type": "quantitative"},
  "y2": {"datum": 0},
  "color": {"datum": "Divergence", "type": "nominal"}
 }},
{"data": {"name": "m4"}, "mark": {"type": "line", "strokeWidth": 2.2, "interpolate": "monotone"},
 "encoding": {
  "x": {"field": "i", "type": "quantitative"},
  "y": {"field": "v", "type": "quantitative"},
  "color": {"field": "s", "type": "nominal", "scale": {"domain": ["Divergence", "MACD", "MACD Signal Line"], "range": ["#808080", "#c8262b", "#2fb45a"]},
   "legend": {"orient": "none", "legendX": 31, "legendY": 96.5, "direction": "horizontal", "title": null, "symbolType": "stroke", "symbolSize": 900, "labelFontSize": 12.5, "labelOffset": 12, "columnPadding": 16.5, "padding": 0,
    "encode": {"symbols": {"update": {"strokeWidth": {"signal": "datum.value === 'Divergence' ? 6 : 2"}}}}}}
 }}
]
}
]
}
]
},
{
"width": 404.3, "height": 200.6,
"title": {"text": "Note: Support & Resistance Calculated based on 24 Hr Pivot Points", "orient": "bottom", "anchor": "start", "frame": "group", "dx": -10, "offset": 8.7, "fontSize": 13, "fontWeight": "normal", "color": "#333333"},
"layer": [
{"data": {"name": "sr24"}, "mark": {"type": "rule", "strokeWidth": 2},
 "encoding": {
  "y": {"field": "v", "type": "quantitative", "scale": {"domain": [1.03, 1.09], "nice": false, "zero": false},
   "axis": {"title": null, "values": [1.03, 1.045, 1.06, 1.075, 1.09], "format": ".4f", "grid": false, "tickSize": 4, "labelPadding": 13, "labelFontSize": 12.2}},
  "color": {"field": "s", "type": "nominal", "scale": {"domain": ["CLOSE", "R2", "R1", "S1", "S2"], "range": ["#2a7ab9", "#c3d69b", "#e6b0ad", "#b3a2c7", "#93cddd"]},
   "legend": {"orient": "none", "legendX": -17.7, "legendY": 255.3, "direction": "horizontal", "title": null, "symbolType": "stroke", "symbolSize": 900, "labelFontSize": 11, "labelOffset": 15, "columnPadding": 33.5, "padding": 0,
    "encode": {"symbols": {"update": {"strokeWidth": {"signal": "datum.value === 'CLOSE' ? 2.5 : 1.5"}}}}}}
 }},
{"data": {"name": "sr24"}, "mark": {"type": "text", "align": "right", "baseline": "middle", "dx": -13, "dy": -9, "fontSize": 12, "color": "#333333"},
 "encoding": {
  "x": {"datum": 123.4, "type": "quantitative"},
  "y": {"field": "v", "type": "quantitative"},
  "text": {"field": "v", "type": "quantitative", "format": ".4f"}
 }},
{"data": {"name": "h1"}, "mark": {"type": "line", "strokeWidth": 2.5},
 "encoding": {
  "x": {"field": "i", "type": "quantitative", "scale": {"domain": [0, 123.4], "nice": false, "zero": false},
   "axis": {"title": null, "values": [0,20,40,60,80,100,120], "labelExpr": "split(['15 Jun|0:00','15 Jun|20:00','16 Jun|16:00','17 Jun|12:00','20 Jun|8:00','21 Jun|4:00','22 Jun|0:00'][round(datum.value/20)], '|')", "labelLineHeight": 15.7, "labelFontSize": 13, "tickSize": 4, "labelPadding": 12, "grid": false}},
  "y": {"field": "c", "type": "quantitative"},
  "color": {"datum": "CLOSE", "type": "nominal"}
 }}
]
}
]
},
{
"width": 944, "height": 14,
"data": {"values": [{"v": 0.286}]},
"mark": {"type": "rule", "color": "#8c8c8c", "strokeWidth": 1},
"encoding": {
 "y": {"field": "v", "type": "quantitative", "scale": {"domain": [0, 1]}, "axis": null},
 "x": {"datum": -0.0848, "type": "quantitative", "scale": {"domain": [0, 1], "nice": false, "zero": false}, "axis": null},
 "x2": {"datum": 1}
}
}
],
"resolve": {"scale": {"color": "independent"}, "legend": {"color": "independent"}},
"config": {
 "view": {"stroke": null},
 "font": "Liberation Sans",
 "axis": {"labelFont": "Liberation Sans", "labelColor": "#44385a", "domainColor": "#8c8c8c", "tickColor": "#8c8c8c", "gridColor": "#a6a6a6", "labelFlush": false, "labelOverlap": false, "labelBound": false},
 "legend": {"labelFont": "Liberation Sans", "labelColor": "#262626", "symbolOpacity": 1},
 "title": {"font": "Liberation Sans"}
}
}
